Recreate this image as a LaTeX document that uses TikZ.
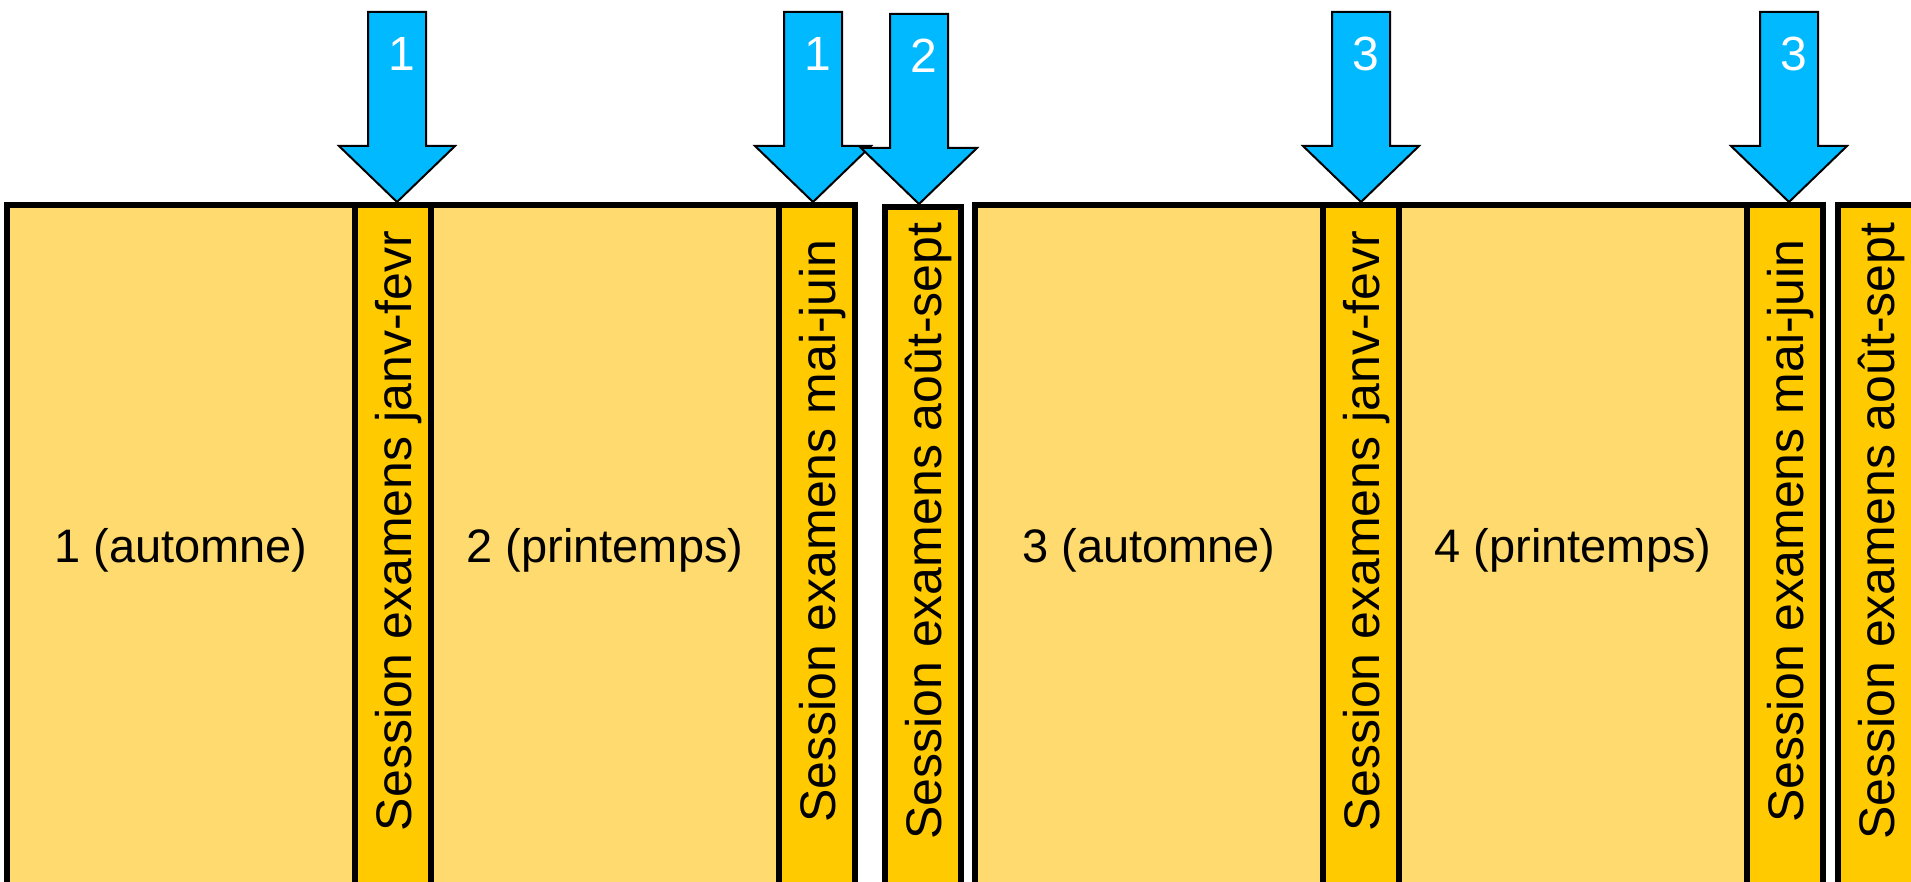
\documentclass[tikz,border=0pt]{standalone}
\usepackage{fontspec}
\setmainfont{Liberation Sans}
\definecolor{semfill}{HTML}{FFDA6E}
\definecolor{sessfill}{HTML}{FFCB00}
\definecolor{flechefill}{HTML}{00B9FF}
\tikzset{
  semestre/.style={draw, line width=6pt, fill=semfill, minimum width=348pt, minimum height=680pt,
    anchor=north west, inner sep=0pt, outer sep=0pt, text height=34pt, text depth=0pt,
    font=\fontsize{47}{50}\selectfont},
  session/.style={draw, line width=6pt, fill=sessfill, minimum width=76pt, minimum height=680pt,
    anchor=north west, inner sep=0pt, outer sep=0pt},
  sesstext/.style={rotate=90, inner sep=0pt, text height=36pt, text depth=0pt,
    font=\fontsize{50}{55}\selectfont},
  fleche/.style={draw, line width=2pt, fill=flechefill, line join=miter},
  chiffre/.style={text=white, inner sep=0pt, font=\fontsize{48}{52}\selectfont},
}
% #1 target strip, #2 shift of the tip, #3 name, #4 digit
\newcommand{\fleche}[4]{%
  \draw[fleche] ([xshift=#2]#1.north) ++(0,-3) -- ++(-58,-56) -- ++(29,0) -- ++(0,-134)
    -- ++(58,0) -- ++(0,134) -- ++(29,0) -- cycle;
  \node[chiffre] (#3) at ([xshift=#2+5pt,yshift=151pt]#1.north) {#4};
}
\begin{document}
\begin{tikzpicture}[x=1pt,y=-1pt]
  \clip (0,0) rectangle (1911,882);

  % premiere annee
  \node[semestre] (b1) at (7,205) {1 (automne)};
  \node[session] (s1) at (b1.north east) {};
  \node[semestre] (b2) at (s1.north east) {2 (printemps)};
  \node[session] (s2) at (b2.north east) {};
  \node[session] (s3) at ([xshift=30pt,yshift=-2pt]s2.north east) {};

  % deuxieme annee
  \node[semestre] (b3) at ([xshift=14pt,yshift=2pt]s3.north east) {3 (automne)};
  \node[session] (s4) at (b3.north east) {};
  \node[semestre] (b4) at (s4.north east) {4 (printemps)};
  \node[session] (s5) at (b4.north east) {};
  \node[session] (s6) at ([xshift=15pt]s5.north east) {};

  \node[sesstext] (l1) at ([yshift=-326pt]s1.north) {Session examens janv-fevr};
  \node[sesstext] (l2) at ([yshift=-326pt]s2.north) {Session examens mai-juin};
  \node[sesstext] (l3) at ([yshift=-324pt]s3.north) {Session examens août-sept};
  \node[sesstext] (l4) at ([yshift=-326pt]s4.north) {Session examens janv-fevr};
  \node[sesstext] (l5) at ([yshift=-326pt]s5.north) {Session examens mai-juin};
  \node[sesstext] (l6) at ([yshift=-326pt]s6.north) {Session examens août-sept};

  % fleches
  \fleche{s1}{4pt}{f1}{1}
  \fleche{s2}{-4pt}{f2}{1}
  \fleche{s3}{-4pt}{f3}{2}
  \fleche{s4}{0pt}{f4}{3}
  \fleche{s5}{4pt}{f5}{3}
\end{tikzpicture}
\end{document}
